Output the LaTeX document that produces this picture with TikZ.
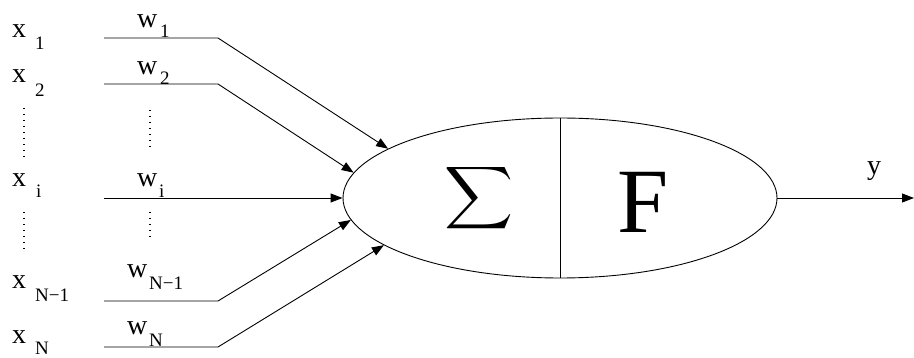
\documentclass[tikz,border=0pt]{standalone}
\usepackage{fontspec}
\usepackage{graphicx}
\newfontfamily\tnr{Liberation Serif}
\usetikzlibrary{shapes.geometric,arrows.meta}
\newcommand\mylblfont{\tnr\fontsize{28}{30}\selectfont}
\newcommand\mysubfont{\tnr\fontsize{19}{21}\selectfont}
\begin{document}
\begin{tikzpicture}[x=1pt,y=-1pt,
  lbl/.style={anchor=base west,inner sep=0pt,font=\mylblfont},
  sublbl/.style={anchor=base west,inner sep=0pt,font=\mysubfont},
  arr/.style={line width=0.9pt,-{Triangle[length=12pt,width=9pt]}},
  dots/.style={line width=1.1pt,dash pattern=on 1pt off 5pt}]
\useasboundingbox (0,0) rectangle (914,358);
% neuron body
\node[draw,ellipse,line width=0.9pt,minimum width=434pt,minimum height=160pt,inner sep=0pt] (E) at (560,198) {};
\draw[line width=0.9pt] (E.north) -- (E.south);
\node[inner sep=0pt] (sig) at (479.5,198) {\resizebox*{69pt}{70pt}{$\displaystyle\sum$}};
\node[anchor=base west,inner sep=0pt,font=\tnr\fontsize{92}{92}\selectfont] (F) at (617,233) {F};
% input labels
\node[lbl] (x1) at (12,38) {x};   \node[sublbl] (x1s) at (35,50) {1};
\node[lbl] (x2) at (12,83) {x};   \node[sublbl] (x2s) at (35,97) {2};
\node[lbl] (xi) at (12,187) {x};  \node[sublbl] (xis) at (36,198) {i};
\node[lbl] (xn1) at (12,289) {x}; \node[sublbl] (xn1s) at (35,302) {N−1};
\node[lbl] (xn) at (12,344) {x};  \node[sublbl] (xns) at (35,355) {N};
% weight labels
\node[lbl] (w1) at (137,28) {w};   \node[sublbl] (w1s) at (160,38) {1};
\node[lbl] (w2) at (137,75) {w};   \node[sublbl] (w2s) at (160,85) {2};
\node[lbl] (wi) at (137,187) {w};  \node[sublbl] (wis) at (159,198) {i};
\node[lbl] (wn1) at (127,278) {w}; \node[sublbl] (wn1s) at (149,290) {N−1};
\node[lbl] (wn) at (127,335) {w};  \node[sublbl] (wns) at (149,347) {N};
% wires
\coordinate (a1) at (104,38);  \coordinate (b1) at (218,38);
\coordinate (a2) at (104,84);  \coordinate (b2) at (218,84);
\coordinate (ai) at (104,198);
\coordinate (an1) at (104,301); \coordinate (bn1) at (218,301);
\coordinate (an) at (104,347);  \coordinate (bn) at (218,347);
\draw[arr] (a1) -- (b1) -- (E.164.4);
\draw[arr] (a2) -- (b2) -- (E.173.1);
\draw[arr] (ai) -- (E.west);
\draw[arr] (an1) -- (bn1) -- (E.186.9);
\draw[arr] (an) -- (bn) -- (E.195.6);
% output
\coordinate (out) at (914,198);
\draw[arr] (E.east) -- (out);
\node[lbl] (y) at (867,175) {y};
% dots
\coordinate (d1a) at (24,108); \coordinate (d1b) at (24,158);
\coordinate (d2a) at (24,212); \coordinate (d2b) at (24,250);
\coordinate (d3a) at (150,110); \coordinate (d3b) at (150,148);
\coordinate (d4a) at (150,212); \coordinate (d4b) at (150,240);
\draw[dots] (d1a) -- (d1b);
\draw[dots] (d2a) -- (d2b);
\draw[dots] (d3a) -- (d3b);
\draw[dots] (d4a) -- (d4b);
\end{tikzpicture}
\end{document}
